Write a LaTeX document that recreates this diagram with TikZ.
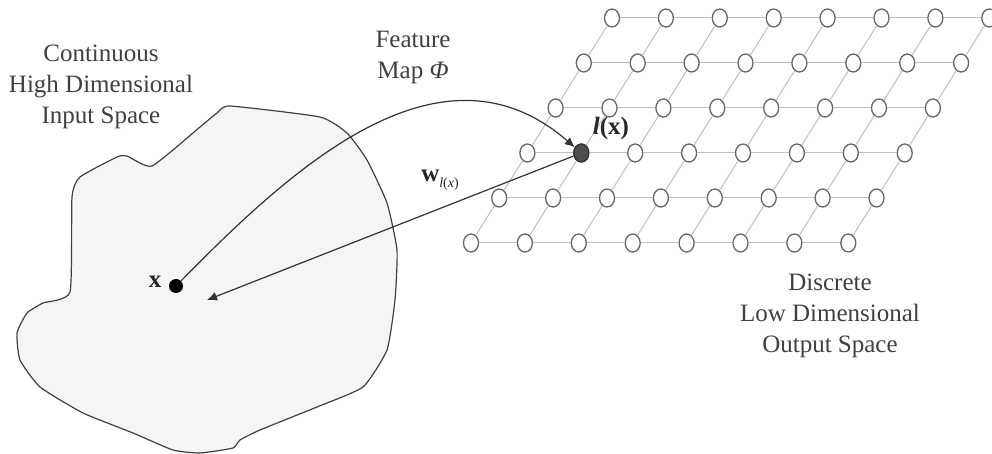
\documentclass[tikz,border=0pt]{standalone}
\usepackage{fontspec}
\setmainfont{Liberation Serif}
\usetikzlibrary{arrows.meta}
\usetikzlibrary{positioning}
\usetikzlibrary{shapes.geometric}

\begin{document}
\begin{tikzpicture}[x=0.5pt, y=-0.5pt, font=\fontsize{12.5}{15.5}\selectfont,
    unit/.style={ellipse, draw=black!60, fill=white, line width=0.65pt,
        minimum width=7.5pt, minimum height=9pt, inner sep=0pt},
    link/.style={draw=black!25, line width=0.5pt},
    caption/.style={align=center, text=black!75},
    map/.style={draw=black!80, line width=0.6pt, -{Latex[length=5pt, width=4.5pt]}}]
    \useasboundingbox (0,0) rectangle (992,454);

    % input space
    \draw[draw=black!75, fill=black!4, line width=0.6pt]
        plot[smooth cycle, tension=0.3] coordinates {
        (230,106) (320,117) (347,133) (367,160) (387,203) (397,250)
        (395,300) (387,350) (363,387) (317,407) (260,430) (240,440)
        (233,448) (200,453) (173,450) (133,433) (83,413) (40,387)
        (20,360) (17,333) (27,313) (43,303) (70,292) (72,197)
        (80,177) (117,157) (127,156) (152,166) (200,127) (217,113)};

    % output lattice
    \foreach \j in {0,...,5}
        \foreach \i in {0,...,7}
            \node[unit] (n-\i-\j) at ({471+53.9*\i+28.2*\j}, {243-45*\j}) {};
    \foreach \j in {0,...,5}
        \foreach \i [count=\k from 1] in {0,...,6}
            \draw[link] (n-\i-\j) -- (n-\k-\j);
    \foreach \i in {0,...,7}
        \foreach \j [count=\k from 1] in {0,...,4}
            \draw[link] (n-\i-\j) -- (n-\i-\k);
    \node[unit, fill=black!70, draw=black!80] (lx) at (n-1-2) {};

    \node[circle, fill=black, minimum size=7pt, inner sep=0pt] (x) at (176,286) {};
    \coordinate (wx) at (207,300);

    \node[caption] (inspace) at (101,87) {Continuous\\High Dimensional\\Input Space};
    \node[caption] (fmap) at (413,57) {Feature\\Map \textit{Φ}};
    \node[caption] (outspace) at (830,316) {Discrete\\Low Dimensional\\Output Space};
    \node[text=black!85] (xlab) at (155,282) {\textbf{x}};
    \node[text=black!85] (lxlab) at (611,128) {\textbf{\textit{l}(x)}};
    \node[text=black!85] (wlab) at (440,180)
        {\textbf{w}\raisebox{-0.5ex}{\scriptsize\textit{l}(\textit{x})}};

    \draw[map] (x) .. controls (290,170) and (440,30) .. (lx);
    \draw[map] (lx) -- (wx);
\end{tikzpicture}
\end{document}
